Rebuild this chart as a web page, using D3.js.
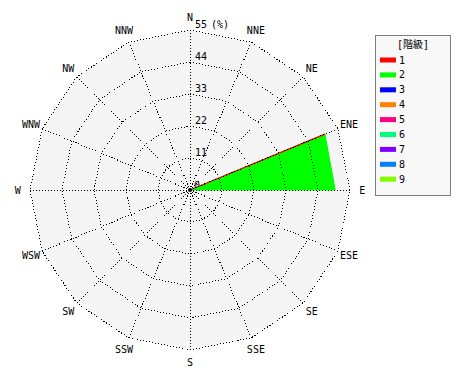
<!DOCTYPE html>
<html lang="ja">
<head>
<meta charset="utf-8">
<title>風配図</title>
<script src="https://cdn.jsdelivr.net/npm/d3@7"></script>
<style>
  body { margin: 0; background: #fff; }
  text { font-family: "DejaVu Sans Mono", "Noto Sans CJK JP", monospace; font-size: 10px; fill: #000; }
</style>
</head>
<body>
<script>
// 16 directions, clockwise from N
var directions = ["N","NNE","NE","ENE","E","ESE","SE","SSE","S","SSW","SW","WSW","W","WNW","NW","NNW"];
var ringTicks = [11, 22, 33, 44, 55];
var classes = ["1","2","3","4","5","6","7","8","9"];
var classColors = ["#ff0000","#00ff00","#0000ff","#ff8000","#ff0080","#00ff80","#8000ff","#0080ff","#80ff00"];
// frequency (%) per direction for each class (cumulative polygons)
var class2 = [0,0,0,50.2,49.9,0,0,0,0,0,0,0,0,0,0,0];
var class1 = [0,0,0,50.2,0,0,0,0,0,0,0,0,0,0,0,0];

var w = 470, h = 380;
var cx = 190, cy = 190, R = 160;

var svg = d3.select("body").append("svg").attr("width", w).attr("height", h);
var g = svg.append("g").attr("transform", "translate(" + cx + "," + cy + ")");

var r = d3.scaleLinear().domain([0, 55]).range([0, R]);
var ang = d3.scaleLinear().domain([0, 16]).range([0, 2 * Math.PI]);

function pt(i, v) {
  var a = ang(i);
  return [r(v) * Math.sin(a), -r(v) * Math.cos(a)];
}

// background polygon
g.append("polygon")
  .attr("points", directions.map(function(d, i) { return pt(i, 55); }).join(" "))
  .attr("fill", "#f5f5f5");

// 0 label sits under the data
g.append("text").attr("x", 4).attr("y", -1).text("0");

// series polygons
var line = d3.line().curve(d3.curveLinearClosed);
g.append("path")
  .attr("d", line(class2.map(function(v, i) { return pt(i, v); })))
  .attr("fill", classColors[1])
  .attr("stroke", classColors[1])
  .attr("stroke-width", 1);
g.append("path")
  .attr("d", line(class1.map(function(v, i) { return pt(i, v); })))
  .attr("fill", classColors[0])
  .attr("stroke", classColors[0])
  .attr("stroke-width", 1.2);

// grid rings
g.selectAll("polygon.ring")
  .data(ringTicks)
  .enter().append("polygon")
  .attr("class", "ring")
  .attr("points", function(t) { return directions.map(function(d, i) { return pt(i, t); }).join(" "); })
  .attr("fill", "none")
  .attr("stroke", "#000")
  .attr("stroke-dasharray", "1,2")
  .attr("shape-rendering", "crispEdges");

// spokes
g.selectAll("line.spoke")
  .data(directions)
  .enter().append("line")
  .attr("class", "spoke")
  .attr("x1", 0).attr("y1", 0)
  .attr("x2", function(d, i) { return pt(i, 55)[0]; })
  .attr("y2", function(d, i) { return pt(i, 55)[1]; })
  .attr("stroke", "#000")
  .attr("stroke-dasharray", "1,2")
  .attr("shape-rendering", "crispEdges");

g.append("circle").attr("r", 2).attr("fill", "#000");

// ring labels
g.selectAll("text.tick")
  .data(ringTicks)
  .enter().append("text")
  .attr("class", "tick")
  .attr("x", 5)
  .attr("y", function(t) { return -r(t) - 2; })
  .text(function(t) { return t; });
g.append("text").attr("x", 21).attr("y", -r(55) - 2).text("(%)");

// direction labels
g.selectAll("text.dir")
  .data(directions)
  .enter().append("text")
  .attr("class", "dir")
  .attr("x", function(d, i) { return pt(i, 59.2)[0]; })
  .attr("y", function(d, i) { return pt(i, 59.2)[1]; })
  .attr("dy", "0.35em")
  .attr("text-anchor", "middle")
  .text(function(d) { return d; });

// legend
var lg = svg.append("g").attr("transform", "translate(375,35)");
lg.append("rect")
  .attr("x", 0.5).attr("y", 0.5).attr("width", 75).attr("height", 160)
  .attr("fill", "#f8f8f8")
  .attr("stroke", "#000")
  .attr("stroke-dasharray", "1,1");
lg.append("text").attr("x", 38).attr("y", 13).attr("text-anchor", "middle").text("[階級]");
var item = lg.selectAll("g.item")
  .data(classes)
  .enter().append("g")
  .attr("class", "item")
  .attr("transform", function(d, i) { return "translate(0," + (25 + i * 14.9) + ")"; });
item.append("rect")
  .attr("x", 5).attr("y", -2.5).attr("width", 16).attr("height", 5)
  .attr("fill", function(d, i) { return classColors[i]; });
item.append("text")
  .attr("x", 24).attr("dy", "0.35em")
  .attr("font-size", "11px")
  .text(function(d) { return d; });
</script>
</body>
</html>
